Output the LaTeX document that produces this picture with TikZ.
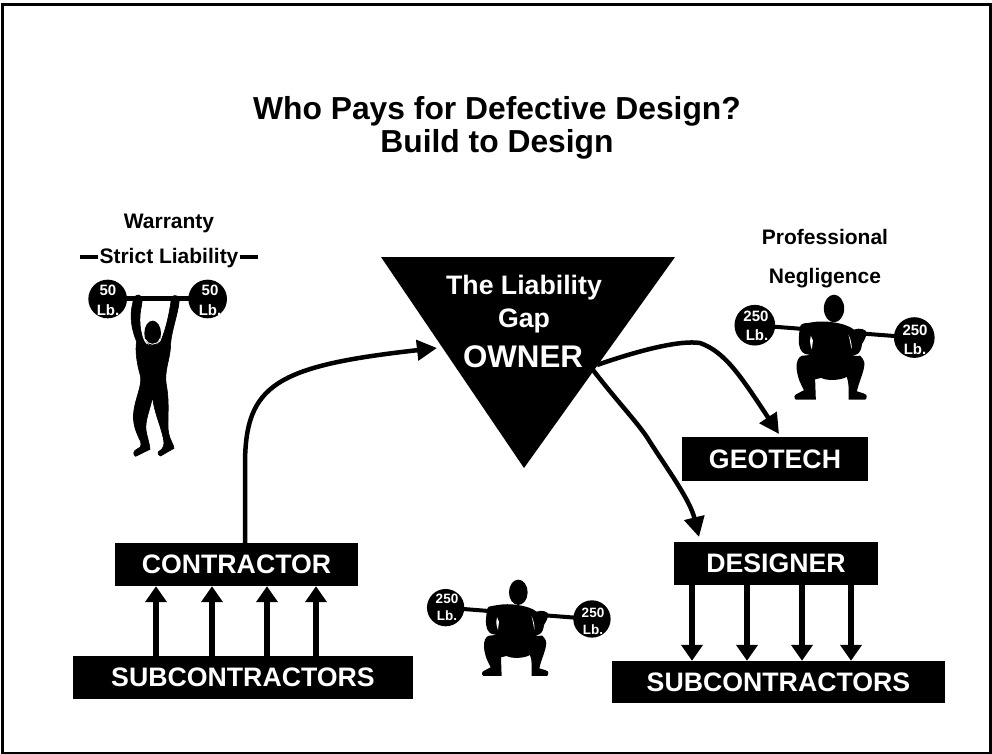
\documentclass[tikz,border=0pt]{standalone}
\usepackage{fontspec}
\setmainfont{Liberation Sans}
\usetikzlibrary{arrows.meta, positioning, calc}
\tikzset{
  blackbox/.style={fill=black,text=white,font=\bfseries\fontsize{26.7}{30}\selectfont,inner sep=0pt,anchor=center},
  toptext/.style={font=\bfseries\fontsize{21}{24}\selectfont,inner sep=0pt},
  gaptext/.style={text=white,font=\bfseries\fontsize{#1}{#1}\selectfont,inner sep=0pt},
  platetext/.style={text=white,font=\bfseries\fontsize{#1}{#1}\selectfont,inner sep=0pt},
  barbell/.style={line width=4pt},
  curvearrow/.style={line width=4.5pt,-{Triangle[length=20pt,width=20pt]}},
  stackarrow/.style={line width=6pt,-{Triangle[length=16pt,width=21pt]}},
  squatter/.pic={
    \fill (-218,46) circle (56);
    \fill (221,80) circle (56);
    \draw[barbell] (-218,46) -- (221,80);
    \fill (0,0) ellipse (28 and 38);
    % body, arms and legs
    \fill (-60,38) .. controls (-30,32) and (30,38) .. (55,58)
      .. controls (70,52) and (92,58) .. (90,68)
      .. controls (88,80) and (82,90) .. (77,98)
      .. controls (76,110) and (72,120) .. (65,125)
      -- (50,131) -- (72,130)
      .. controls (82,140) and (86,150) .. (83,160)
      .. controls (80,180) and (68,205) .. (63,228)
      .. controls (75,232) and (92,235) .. (90,242)
      .. controls (90,248) and (88,251) .. (85,251)
      -- (40,251) .. controls (40,225) and (42,205) .. (35,188)
      .. controls (20,198) and (-20,200) .. (-35,191)
      -- (-52,195) -- (-50,251)
      -- (-105,251) .. controls (-112,245) and (-110,238) .. (-100,234)
      -- (-83,225)
      .. controls (-90,210) and (-100,195) .. (-103,165)
      .. controls (-104,145) and (-98,133) .. (-88,130)
      -- (-65,128) -- (-80,125)
      .. controls (-92,120) and (-98,105) .. (-97,83)
      .. controls (-95,60) and (-95,45) .. (-88,43)
      .. controls (-78,38) and (-70,42) .. (-60,38) -- cycle;
    \fill[white] (-64,75) .. controls (-67,90) and (-66,100) .. (-61,113) -- (-58,88) -- cycle;
    \fill[white] (40,72) .. controls (46,85) and (50,100) .. (48,112) -- (44,90) -- cycle;
  }
}

\begin{document}
\begin{tikzpicture}[x=1pt,y=-1pt]
\useasboundingbox (0,0) rectangle (992,754);
\draw[line width=3pt] (2.8,4.7) rectangle (990.8,753.5);

% title
\node[font=\bfseries\fontsize{31.8}{33}\selectfont,align=center,inner sep=0pt] (Title) at (497,127.5) {Who Pays for Defective Design?\\Build to Design};

% boxes
\node[blackbox,minimum width=243pt,minimum height=43pt] (CON) at (236.5,564.5) {CONTRACTOR};
\node[blackbox,minimum width=340pt,minimum height=43pt] (SUBL) at (243,677.5) {SUBCONTRACTORS};
\node[blackbox,minimum width=204pt,minimum height=43pt] (DES) at (776,563.5) {DESIGNER};
\node[blackbox,minimum width=333pt,minimum height=42pt] (SUBR) at (778.5,682) {SUBCONTRACTORS};
\node[blackbox,minimum width=186pt,minimum height=44pt] (GEO) at (775,459) {GEOTECH};

% the gap
\fill (381,257) -- (675,257) -- (524,468) -- cycle;
\node[gaptext=26.7] (Gapa) at (524,288) {The Liability};
\node[gaptext=26.7] (Gapb) at (524,321) {Gap};
\node[gaptext=31.3] (OWN) at (523,357) {OWNER};
\coordinate (Oa) at (597,365);
\coordinate (Ob) at (593,370);
\coordinate (Ca) at (245,543);
\coordinate (Ce) at (437,348);
\coordinate (Ge) at (779,434);
\coordinate (De) at (699,537);

% arrows
\draw[curvearrow] (Ca) -- (245,465) .. controls (245,385) and (275,366) .. (Ce);
\draw[curvearrow] (Oa) .. controls (640,350) and (680,340) .. (700,343) .. controls (725,352) and (740,375) .. (Ge);
\draw[curvearrow] (Ob) .. controls (620,405) and (640,425) .. (650,442) .. controls (668,470) and (690,500) .. (De);
\foreach \px in {156,212,267,316}
  \draw[stackarrow] (\px,0 |- SUBL.north) -- (\px,0 |- CON.south);
\foreach \px in {692,747,802,851}
  \draw[stackarrow] (\px,0 |- DES.south) -- (\px,0 |- SUBR.north);

% warranty
\node[toptext] (War) at (169,223) {Warranty};
\node[toptext] (Str) at (169,258) {Strict Liability};
\draw[line width=4pt] (Str.west) ++(-1,-1) -- ++(-18,0);
\draw[line width=4pt] (Str.east) ++(1,-1) -- ++(18,0);

% lifter overhead
\begin{scope}[shift={(70,200)},x=0.3333pt,y=-0.3333pt]
\fill (113,297) circle (58);
\fill (413,297) circle (58);
\draw[line width=5pt] (113,297) -- (413,297);
\fill (248,400) ellipse (25 and 38);
\filldraw[line width=.6pt] (205,285) .. controls (220,288) and (218,300) .. (212,330)
  .. controls (205,370) and (215,420) .. (228,432)
  .. controls (245,442) and (260,438) .. (272,425)
  .. controls (295,370) and (302,310) .. (305,290)
  .. controls (315,283) and (330,288) .. (328,300)
  .. controls (325,340) and (305,390) .. (302,430)
  .. controls (302,480) and (280,510) .. (290,560)
  .. controls (300,620) and (290,670) .. (296,700)
  .. controls (300,720) and (312,735) .. (312,745)
  -- (272,768) .. controls (262,765) and (262,755) .. (270,752)
  .. controls (280,745) and (285,735) .. (280,715)
  .. controls (270,670) and (250,630) .. (248,590)
  .. controls (240,630) and (225,660) .. (228,690)
  .. controls (232,715) and (240,735) .. (240,748)
  -- (197,769) .. controls (188,765) and (190,752) .. (200,748)
  .. controls (208,745) and (216,742) .. (212,725)
  .. controls (200,700) and (185,670) .. (192,630)
  .. controls (198,590) and (215,560) .. (212,530)
  .. controls (200,490) and (195,450) .. (200,425)
  .. controls (185,390) and (178,350) .. (188,310)
  .. controls (190,295) and (195,285) .. (205,285) -- cycle;
\draw[white,line width=.8pt] (226,418) .. controls (232,436) and (262,440) .. (270,416);
\end{scope}
\node[platetext=15] (Wa) at (108,290) {50};
\node[platetext=15] (Wb) at (108,310) {Lb.};
\node[platetext=15] (Wc) at (210,290) {50};
\node[platetext=15] (Wd) at (210,310) {Lb.};

% professional negligence
\node[toptext] (Pro) at (825,237) {Professional};
\node[toptext] (Neg) at (825,278) {Negligence};
\pic[scale=0.3632] at (834,308.5) {squatter};
\node[platetext=15] (Na) at (756,316) {250};
\node[platetext=15] (Nb) at (757,335) {Lb.};
\node[platetext=15] (Nc) at (915,330) {250};
\node[platetext=15] (Nd) at (915,349) {Lb.};

% bottom lifter
\pic[scale=0.3333] at (518.3,592.3) {squatter};
\node[platetext=13.5] (Ba) at (447,599) {250};
\node[platetext=13.5] (Bb) at (447,616) {Lb.};
\node[platetext=13.5] (Bc) at (593,613) {250};
\node[platetext=13.5] (Bd) at (593,630) {Lb.};
\end{tikzpicture}
\end{document}
